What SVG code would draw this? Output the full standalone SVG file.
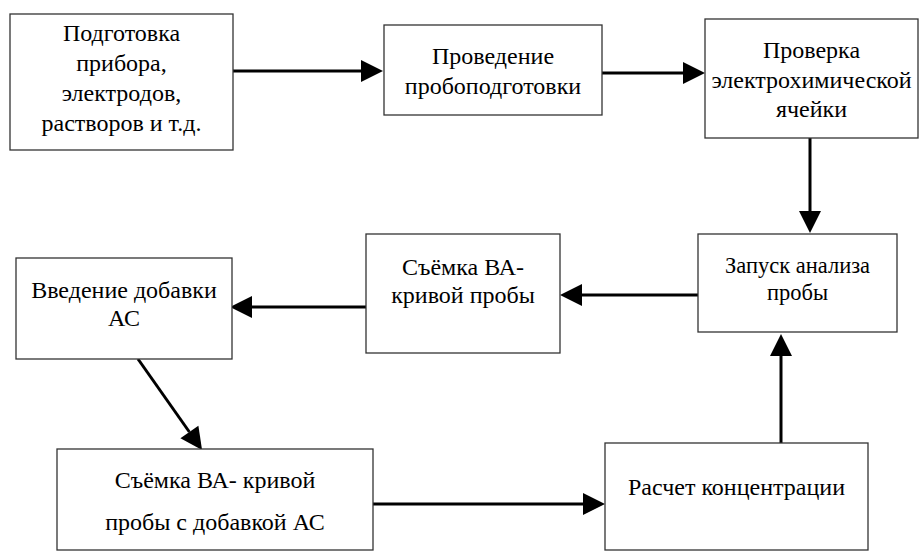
<svg xmlns="http://www.w3.org/2000/svg" width="920" height="552" viewBox="0 0 920 552">
<style>
  .box { fill: #ffffff; stroke: #333333; stroke-width: 1.3; }
  .t { font-family: 'Liberation Serif', 'Times New Roman', serif; font-size: 24px; fill: #000000; text-anchor: middle; }
  .s { font-size: 22.5px; }
  .c { stroke: #000000; stroke-width: 3; fill: none; marker-end: url(#ah); }
</style>
<defs>
  <marker id="ah" markerUnits="userSpaceOnUse" markerWidth="22" markerHeight="22" refX="0" refY="11" orient="auto" overflow="visible">
    <path d="M0,0 L22,11 L0,22 Z" fill="#000000"/>
  </marker>
</defs>
<rect width="920" height="552" fill="#ffffff"/>

<g id="connectors">
  <line class="c" x1="233" y1="71" x2="361" y2="71"/>
  <line class="c" x1="602" y1="73" x2="683" y2="73"/>
  <line class="c" x1="810" y1="138" x2="810" y2="211"/>
  <line class="c" x1="698" y1="295" x2="582" y2="295"/>
  <line class="c" x1="366" y1="307" x2="252" y2="307"/>
  <line class="c" x1="138" y1="359" x2="189.4" y2="432"/>
  <line class="c" x1="373" y1="504" x2="583" y2="504"/>
  <line class="c" x1="781" y1="443" x2="781" y2="356"/>
</g>

<g id="n1">
  <rect class="box" x="10" y="14" width="223" height="136"/>
  <text class="t" x="121.5" y="41">Подготовка</text>
  <text class="t" x="121.5" y="71">прибора,</text>
  <text class="t" x="121.5" y="101">электродов,</text>
  <text class="t" x="121.5" y="131">растворов и т.д.</text>
</g>
<g id="n2">
  <rect class="box" x="384" y="25" width="218" height="90"/>
  <text class="t" x="493" y="64">Проведение</text>
  <text class="t" x="493" y="94">пробоподготовки</text>
</g>
<g id="n3">
  <rect class="box" x="705" y="19" width="213" height="119"/>
  <text class="t" x="811.5" y="58">Проверка</text>
  <text class="t" x="811.5" y="88">электрохимической</text>
  <text class="t" x="811.5" y="117">ячейки</text>
</g>
<g id="n4">
  <rect class="box" x="698" y="234" width="199" height="98"/>
  <text class="t s" x="797.5" y="273">Запуск анализа</text>
  <text class="t s" x="797.5" y="300">пробы</text>
</g>
<g id="n5">
  <rect class="box" x="366" y="234" width="194" height="119"/>
  <text class="t" x="463" y="275">Съёмка ВА-</text>
  <text class="t" x="463" y="303">кривой пробы</text>
</g>
<g id="n6">
  <rect class="box" x="16" y="258" width="216" height="101"/>
  <text class="t" x="124" y="298">Введение добавки</text>
  <text class="t" x="124" y="326">АС</text>
</g>
<g id="n7">
  <rect class="box" x="57" y="449" width="316" height="101"/>
  <text class="t" x="215" y="488">Съёмка ВА- кривой</text>
  <text class="t" x="215" y="530">пробы с добавкой АС</text>
</g>
<g id="n8">
  <rect class="box" x="605" y="443" width="263" height="107"/>
  <text class="t" x="736.5" y="495">Расчет концентрации</text>
</g>
</svg>
